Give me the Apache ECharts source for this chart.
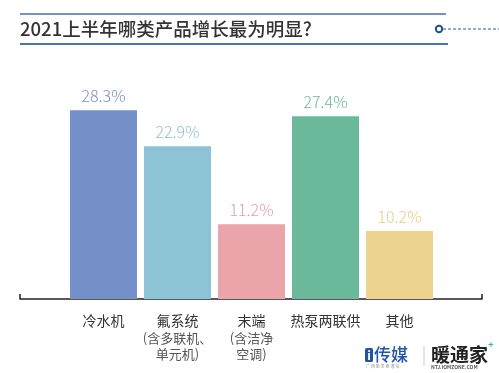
<!DOCTYPE html>
<html>
<head>
<meta charset="utf-8">
<script src="https://cdn.jsdelivr.net/npm/echarts@6/dist/echarts.min.js"></script>
<style>html,body{margin:0;padding:0;background:#fff}#c{width:499px;height:373px}</style>
</head>
<body>
<div id="c"></div>
<script>
const categories = ['冷水机', '氟系统\n(含多联机、\n单元机)', '末端\n(含洁净\n空调)', '热泵两联供', '其他'];
const values = [28.3, 22.9, 11.2, 27.4, 10.2];
const barColors = ['#7590c8', '#8cc4d5', '#eba5aa', '#69b99a', '#ecd48e'];
const labelColors = ['#7f8fc0', '#8cc4d5', '#e59ea4', '#6ab89a', '#e6cc82'];
const titleText = '2021上半年哪类产品增长最为明显?';

const chart = echarts.init(document.getElementById('c'));
const font = '"Noto Sans CJK SC", "Noto Sans", sans-serif';

chart.setOption({
  animation: false,
  title: {
    text: titleText, left: 20, top: 20, padding: 0,
    textStyle: { fontFamily: font, fontSize: 18.5, fontWeight: 500, color: '#333' }
  },
  grid: [
    { left: 66.5, right: 62.5, top: 99, bottom: 74 },
    { left: 20, right: 17, top: 200, bottom: 74 }
  ],
  xAxis: [
    {
      type: 'category', gridIndex: 0, data: categories,
      axisLine: { show: false }, axisTick: { show: false },
      axisLabel: {
        interval: 0, margin: 13, lineHeight: 16,
        formatter: function (v) {
          const parts = v.split('\n');
          let s = '{a|' + parts[0] + '}';
          for (let i = 1; i < parts.length; i++) s += '\n{b|' + parts[i] + '}';
          return s;
        },
        rich: {
          a: { fontFamily: font, fontSize: 14, color: '#333', lineHeight: 18 },
          b: { fontFamily: font, fontSize: 13, color: '#555', lineHeight: 16 }
        }
      }
    },
    {
      type: 'value', gridIndex: 1, min: 0, max: 1, interval: 1,
      axisLine: { show: true, lineStyle: { color: '#222', width: 1.5 } },
      axisTick: { show: true, inside: true, length: 5, lineStyle: { color: '#222', width: 1.5 } },
      axisLabel: { show: false }, splitLine: { show: false }
    }
  ],
  yAxis: [
    { type: 'value', gridIndex: 0, min: 0, max: 30, show: false, splitLine: { show: false } },
    { type: 'value', gridIndex: 1, show: false, splitLine: { show: false } }
  ],
  series: [{
    type: 'bar', xAxisIndex: 0, yAxisIndex: 0, barWidth: 67,
    data: values.map((v, i) => ({
      value: v,
      itemStyle: { color: barColors[i] },
      label: { color: labelColors[i] }
    })),
    label: {
      show: true, position: 'top', distance: 6,
      fontFamily: font, fontSize: 16, fontWeight: 300,
      formatter: p => p.value.toFixed(1) + '%'
    }
  }],
  graphic: [
    { type: 'line', shape: { x1: 20, y1: 14, x2: 446, y2: 14 }, style: { stroke: '#4470ab', lineWidth: 1.5 } },
    { type: 'line', shape: { x1: 20, y1: 44, x2: 448, y2: 44 }, style: { stroke: '#4a76b0', lineWidth: 2 } },
    { type: 'circle', shape: { cx: 439, cy: 29, r: 3.2 }, style: { fill: '#fff', stroke: '#1f4f9a', lineWidth: 2 } },
    { type: 'line', shape: { x1: 443, y1: 29, x2: 499, y2: 29 }, style: { stroke: '#2a5aa0', lineWidth: 1, lineDash: [3, 2] } },
    { type: 'rect', shape: { x: 365, y: 348, width: 8, height: 14, r: 1.5 }, style: { fill: '#2255a4' } },
    { type: 'text', style: { x: 369, y: 355, text: 'i', fill: '#fff', font: 'bold 12px ' + font, align: 'center', verticalAlign: 'middle' } },
    { type: 'text', style: { x: 374, y: 355, text: '传媒', fill: '#2255a4', font: '500 17px ' + font, verticalAlign: 'middle' } },
    { type: 'text', style: { x: 366, y: 366, text: '广 西 服 务 更 通 信', fill: '#999', font: '4px ' + font, verticalAlign: 'middle' } },
    { type: 'line', shape: { x1: 424, y1: 346, x2: 424, y2: 366 }, style: { stroke: '#ccc', lineWidth: 1 } },
    { type: 'text', style: { x: 431, y: 355, text: '暖通家', fill: '#222', font: 'bold 19px ' + font, verticalAlign: 'middle' } },
    { type: 'text', style: { x: 491, y: 345, text: '+', fill: '#3ab0c8', font: 'bold 9px ' + font, align: 'center', verticalAlign: 'middle' } },
    { type: 'text', style: { x: 431, y: 367, text: 'NTJ.IOMZONE.COM', fill: '#555', font: 'bold 5px ' + font, verticalAlign: 'middle' } }
  ]
});
</script>
</body>
</html>
